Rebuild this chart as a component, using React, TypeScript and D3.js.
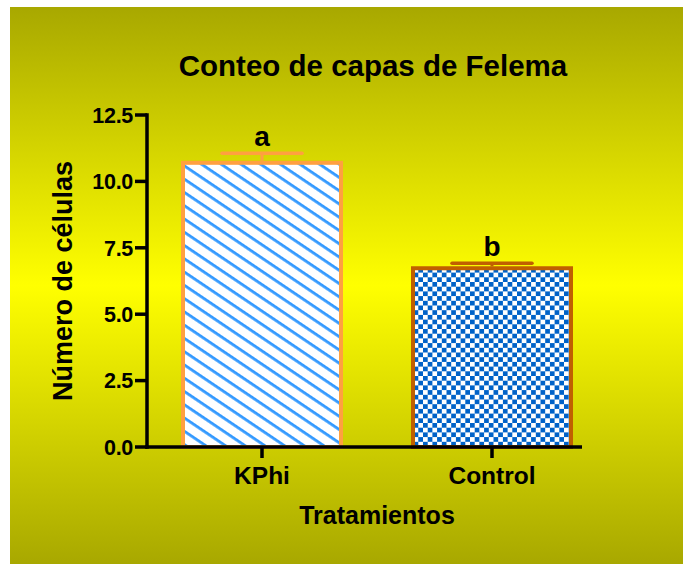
import React from "react";
import * as d3 from "d3";

const categories = ["KPhi", "Control"];
const means = [10.7, 6.73];
const errors = [0.36, 0.19];
const letters = ["a", "b"];
const yTicks = [0, 2.5, 5, 7.5, 10, 12.5];

const W = 683;
const H = 564;
const FONT = "'Liberation Sans', Arial, sans-serif";

export default function App() {
  const x = d3
    .scaleBand<string>()
    .domain(categories)
    .range([147, 607])
    .paddingInner(0.313)
    .paddingOuter(0.1565);
  const y = d3.scaleLinear().domain([0, 12.5]).range([447, 115]);
  const strokes = ["#FFA040", "#C06000"];
  const fills = ["url(#diag)", "url(#checker)"];
  const bw = x.bandwidth();

  return (
    <svg
      width={W}
      height={H}
      style={{ position: "absolute", left: 0, top: 0 }}
      fontFamily={FONT}
    >
      <defs>
        <linearGradient id="bg" x1="0" y1="0" x2="0" y2="1">
          <stop offset="0" stopColor="#A8A800" />
          <stop offset="0.5" stopColor="#FFFF00" />
          <stop offset="1" stopColor="#A8A800" />
        </linearGradient>
        <pattern
          id="diag"
          patternUnits="userSpaceOnUse"
          width={10}
          height={11}
          patternTransform="rotate(34)"
        >
          <rect width={10} height={11} fill="#FFFFFF" />
          <rect y={0} width={10} height={2.8} fill="#3399FF" />
        </pattern>
        <pattern id="checker" patternUnits="userSpaceOnUse" width={9.4} height={9.4}>
          <rect width={9.4} height={9.4} fill="#FFFFFF" />
          <rect width={4.7} height={4.7} fill="#0062C8" />
          <rect x={4.7} y={4.7} width={4.7} height={4.7} fill="#0062C8" />
        </pattern>
      </defs>
      <rect x={10} y={7} width={W - 10} height={H - 7} fill="url(#bg)" />

      <text
        x={373}
        y={76}
        textAnchor="middle"
        fontSize={29.5}
        fontWeight="bold"
        fill="#000"
      >
        Conteo de capas de Felema
      </text>

      {categories.map((c, i) => {
        const x0 = x(c)!;
        const cx = x0 + bw / 2;
        const top = y(means[i]);
        const eTop = y(means[i] + errors[i]);
        return (
          <g key={c}>
            <rect
              x={x0}
              y={top}
              width={bw}
              height={y(0) - top}
              fill={fills[i]}
              stroke={strokes[i]}
              strokeWidth={4}
            />
            <line x1={cx} x2={cx} y1={top - 2} y2={eTop} stroke={strokes[i]} strokeWidth={3} />
            <line x1={cx - 40} x2={cx + 40} y1={eTop} y2={eTop} stroke={strokes[i]} strokeWidth={3.5} strokeLinecap="round" />
            <text
              x={cx}
              y={eTop - 7}
              textAnchor="middle"
              fontSize={28}
              fontWeight="bold"
              fill="#000"
            >
              {letters[i]}
            </text>
            <line x1={cx} x2={cx} y1={y(0)} y2={y(0) + 11} stroke="#000" strokeWidth={3.5} />
            <text
              x={cx}
              y={484}
              textAnchor="middle"
              fontSize={24.5}
              fontWeight="bold"
              fill="#000"
            >
              {c}
            </text>
          </g>
        );
      })}

      {yTicks.map((t) => (
        <g key={t}>
          <line x1={135} x2={147} y1={y(t)} y2={y(t)} stroke="#000" strokeWidth={3.5} />
          <text
            x={133}
            y={y(t)}
            dy="0.36em"
            textAnchor="end"
            fontSize={21.5}
            fontWeight="bold"
            fill="#000"
            letterSpacing={-0.3}
          >
            {t.toFixed(1)}
          </text>
        </g>
      ))}
      <line x1={147} x2={147} y1={y(12.5) - 1.75} y2={y(0) + 1.75} stroke="#000" strokeWidth={3.5} />
      <line x1={145.25} x2={582} y1={y(0)} y2={y(0)} stroke="#000" strokeWidth={3.5} />

      <text
        x={377}
        y={524}
        textAnchor="middle"
        fontSize={25}
        fontWeight="bold"
        fill="#000"
      >
        Tratamientos
      </text>
      <text
        transform={`translate(72,${(115 + 447) / 2}) rotate(-90)`}
        textAnchor="middle"
        fontSize={27}
        fontWeight="bold"
        fill="#000"
      >
        Número de células
      </text>
    </svg>
  );
}
